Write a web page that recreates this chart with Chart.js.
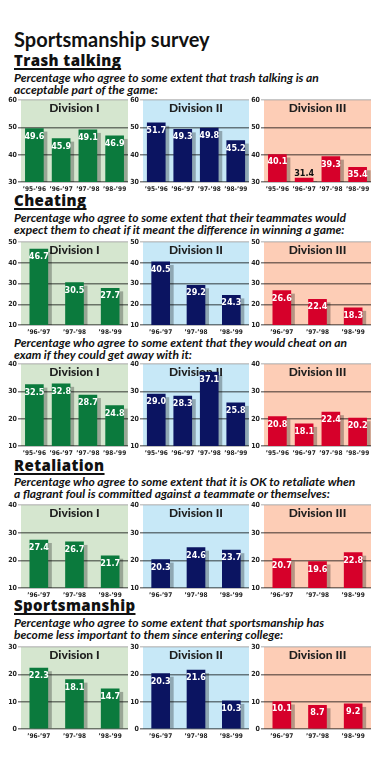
<!DOCTYPE html>
<html>
<head>
<meta charset="utf-8">
<script src="https://cdn.jsdelivr.net/npm/chart.js@4/dist/chart.umd.min.js"></script>
<style>
  html,body{margin:0;padding:0;background:#fff;}
  #page{position:relative;width:384px;height:768px;overflow:hidden;background:#fff;}
  .t{position:absolute;left:14px;white-space:nowrap;color:#111;}
  .title{font:bold 20px Lato, sans-serif;line-height:20px;}
  .head{font:800 15px "Open Sans", sans-serif;line-height:15px;letter-spacing:0.4px;text-decoration:underline;text-decoration-thickness:2px;text-underline-offset:2px;text-decoration-skip-ink:none;}
  .sub{font:italic bold 12px Lato, sans-serif;line-height:12px;}
  canvas{position:absolute;}
</style>
</head>
<body>
<div id="page">
  <div class="t title" style="top:29px">Sportsmanship survey</div>
  <div class="t head" style="top:53px">Trash talking</div>
  <div class="t sub" style="top:72px">Percentage who agree to some extent that trash talking is an<br>acceptable part of the game:</div>
  <div class="t head" style="top:193px">Cheating</div>
  <div class="t sub" style="top:212px">Percentage who agree to some extent that their teammates would<br>expect them to cheat if it meant the difference in winning a game:</div>
  <div class="t sub" style="top:337px">Percentage who agree to some extent that they would cheat on an<br>exam if they could get away with it:</div>
  <div class="t head" style="top:458px">Retaliation</div>
  <div class="t sub" style="top:476px">Percentage who agree to some extent that it is OK to retaliate when<br>a flagrant foul is committed against a teammate or themselves:</div>
  <div class="t head" style="top:598px">Sportsmanship</div>
  <div class="t sub" style="top:617px">Percentage who agree to some extent that sportsmanship has<br>become less important to them since entering college:</div>
</div>
<script>
// ---- data ----
const divisions = ["Division I", "Division II", "Division III"];
const years4 = ["’95-’96", "’96-’97", "’97-’98", "’98-’99"];
const years3 = ["’96-’97", "’97-’98", "’98-’99"];

const trashD1 = [49.6, 45.9, 49.1, 46.9];
const trashD2 = [51.7, 49.3, 49.8, 45.2];
const trashD3 = [40.1, 31.4, 39.3, 35.4];

const cheatTeamD1 = [46.7, 30.5, 27.7];
const cheatTeamD2 = [40.5, 29.2, 24.3];
const cheatTeamD3 = [26.6, 22.4, 18.3];

const cheatExamD1 = [32.5, 32.8, 28.7, 24.8];
const cheatExamD2 = [29.0, 28.3, 37.1, 25.8];
const cheatExamD3 = [20.8, 18.1, 22.4, 20.2];

const retalD1 = [27.4, 26.7, 21.7];
const retalD2 = [20.3, 24.6, 23.7];
const retalD3 = [20.7, 19.6, 22.8];

const sportD1 = [22.3, 18.1, 14.7];
const sportD2 = [20.3, 21.6, 10.3];
const sportD3 = [10.1, 8.7, 9.2];

const axisMin = [30, 10, 10, 10, 0];
const axisMax = [60, 50, 40, 40, 30];

// ---- layout / style ----
const rowsData = [
  {labels: years4, series: [trashD1, trashD2, trashD3]},
  {labels: years3, series: [cheatTeamD1, cheatTeamD2, cheatTeamD3]},
  {labels: years4, series: [cheatExamD1, cheatExamD2, cheatExamD3]},
  {labels: years3, series: [retalD1, retalD2, retalD3]},
  {labels: years3, series: [sportD1, sportD2, sportD3]}
];
const rowBox = [{top:99,bottom:182},{top:241,bottom:325},{top:363,bottom:446},{top:504,bottom:588},{top:646,bottom:729}];
const colBox = [{left:21,right:128},{left:143,right:249},{left:264,right:371}];
const bgColors = ["#d5e6cf", "#c7e8f7", "#fdcdb6"];
const barColors = ["#0b7a3d", "#0b1461", "#d6002a"];
const YW = 18, TOPPAD = 4, XH = 12, RPAD = 2;
const smallFont = {family: '"DejaVu Sans Condensed", "Liberation Sans Narrow", sans-serif', weight: 'bold', size: 7};
const xFont = {family: '"Liberation Sans Narrow", "DejaVu Sans Condensed", sans-serif', weight: 'bold', size: 6.5};

const decor = {
  id: 'decor',
  beforeDraw(chart) {
    const {ctx, chartArea: a} = chart;
    ctx.save();
    ctx.fillStyle = chart.options.plugins.decor.bg;
    ctx.fillRect(a.left, a.top, a.right - a.left, a.bottom - a.top);
    ctx.restore();
  },
  beforeDatasetsDraw(chart) {
    const {ctx, chartArea: a} = chart;
    const o = chart.options.plugins.decor;
    ctx.save();
    ctx.fillStyle = '#1e1e1e';
    ctx.font = '900 12px Lato, sans-serif';
    ctx.textAlign = 'center';
    ctx.textBaseline = 'alphabetic';
    ctx.fillText(o.title, (a.left + a.right) / 2, a.top + 12);
    // shadows
    ctx.fillStyle = 'rgba(0,0,0,0.28)';
    chart.getDatasetMeta(0).data.forEach(b => {
      const w = b.width;
      const base = Math.min(b.base, a.bottom);
      const top = Math.min(b.y + 3, base);
      ctx.fillRect(b.x - w / 2 + 4, top, w, base - top);
    });
    ctx.restore();
  },
  afterDatasetsDraw(chart) {
    const {ctx, chartArea: a} = chart;
    const vals = chart.data.datasets[0].data;
    ctx.save();
    ctx.font = 'bold 9px "DejaVu Sans Condensed", "Liberation Sans Narrow", sans-serif';
    ctx.textAlign = 'center';
    ctx.textBaseline = 'alphabetic';
    chart.getDatasetMeta(0).data.forEach((b, i) => {
      const txt = vals[i].toFixed(1);
      if (Math.min(b.base, a.bottom) - b.y < 12) {
        ctx.fillStyle = '#111';
        ctx.fillText(txt, b.x, b.y - 2);
      } else {
        ctx.fillStyle = '#fff';
        ctx.fillText(txt, b.x, b.y + 10);
      }
    });
    ctx.restore();
  }
};

const page = document.getElementById('page');
rowsData.forEach((row, r) => {
  const rb = rowBox[r];
  row.series.forEach((vals, c) => {
    const cb = colBox[c];
    const cv = document.createElement('canvas');
    const w = YW + (cb.right - cb.left) + RPAD;
    const h = TOPPAD + (rb.bottom - rb.top) + XH;
    cv.width = w; cv.height = h;
    cv.style.width = w + 'px'; cv.style.height = h + 'px';
    cv.style.left = (cb.left - YW) + 'px';
    cv.style.top = (rb.top - TOPPAD) + 'px';
    page.appendChild(cv);
    new Chart(cv, {
      type: 'bar',
      data: {labels: row.labels, datasets: [{data: vals, backgroundColor: barColors[c], borderWidth: 0, barThickness: 18}]},
      options: {
        responsive: false, animation: false, devicePixelRatio: 1,
        layout: {padding: {top: TOPPAD, right: RPAD, left: 0, bottom: 0}},
        plugins: {legend: {display: false}, tooltip: {enabled: false}, decor: {bg: bgColors[c], title: divisions[c]}},
        scales: {
          x: {
            grid: {display: false, drawTicks: false, tickLength: 0}, border: {display: false},
            ticks: {font: xFont, color: '#222', padding: 3, maxRotation: 0, autoSkip: false},
            afterFit(s) { s.height = XH; }
          },
          y: {
            min: axisMin[r], max: axisMax[r],
            ticks: {stepSize: 10, font: smallFont, color: '#222', padding: 1},
            grid: {
              color: ctx => ctx.tick && ctx.tick.value === axisMax[r] ? 'rgba(0,0,0,0.22)' : 'rgba(0,0,0,0.5)',
              lineWidth: 1.5, tickLength: 3, drawTicks: true
            },
            border: {display: false},
            afterFit(s) { s.width = YW; }
          }
        }
      },
      plugins: [decor]
    });
  });
});
</script>
</body>
</html>
